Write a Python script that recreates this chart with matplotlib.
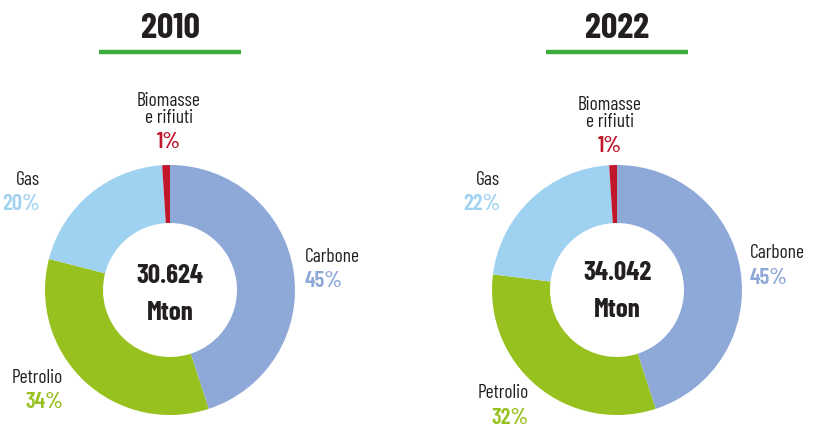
import matplotlib
matplotlib.use("Agg")
import matplotlib.pyplot as plt
from matplotlib import font_manager

installed = set(f.name for f in font_manager.fontManager.ttflist)
prefer = ["Barlow Condensed", "Roboto Condensed", "Barlow Semi Condensed",
          "Archivo Narrow", "PT Sans Narrow", "Oswald"]
FONT = next((f for f in prefer if f in installed), None)
if FONT:
    plt.rcParams['font.family'] = [FONT, 'DejaVu Sans']
    STRETCH = "normal"
else:
    plt.rcParams['font.family'] = ['DejaVu Sans']
    STRETCH = "condensed"
plt.rcParams['font.stretch'] = STRETCH

years = ["2010", "2022"]
totals = ["30.624", "34.042"]
sources = ["Carbone", "Petrolio", "Gas", "Biomasse", "e rifiuti"]
share_2010 = [45, 34, 20, 1]
share_2022 = [45, 32, 22, 1]
colors = ["#8ea8d8", "#97c11f", "#9fd1f0", "#c0172b"]
dark = "#231f20"
green = "#3dae3d"

W, H = 813, 432
fig = plt.figure(figsize=(W / 100, H / 100), dpi=100)
ax = fig.add_axes([0, 0, 1, 1])

def Y(y):
    return H - y

LBL, PCT, MID, TTL = 14, 16.5, 19.5, 26

# per-chart layout (pixel positions from top-left, baselines)
layouts = [
    dict(cx=170, bio=(169, 106, 123, 148), gas=(40, 185, 210),
         car=(305, 262, 287), pet=(63, 383, 408), mid=(283, 320)),
    dict(cx=617, bio=(610, 110, 127, 152), gas=(500, 185, 210),
         car=(750, 258, 284), pet=(529, 398, 424), mid=(280, 317)),
]

for L, year, total, vals in zip(layouts, years, totals, [share_2010, share_2022]):
    cx = L["cx"]
    ax.pie(vals, colors=colors, startangle=90, counterclock=False,
           center=(cx, Y(290)), radius=125,
           wedgeprops=dict(width=58, linewidth=0), frame=True)
    ax.text(cx, Y(38), year, ha="center", va="baseline", fontsize=TTL,
            fontweight="bold", color=dark)
    ax.plot([cx - 71, cx + 71], [Y(52), Y(52)], color=green, lw=3.2,
            solid_capstyle="butt")
    ax.text(cx, Y(L["mid"][0]), total, ha="center", va="baseline",
            fontsize=MID, fontweight="bold", color=dark)
    ax.text(cx, Y(L["mid"][1]), "Mton", ha="center", va="baseline",
            fontsize=MID, fontweight="bold", color=dark)

    x, y1, y2 = L["car"]
    ax.text(x, Y(y1), sources[0], ha="left", va="baseline", fontsize=LBL, color=dark)
    ax.text(x, Y(y2), f"{vals[0]}%", ha="left", va="baseline", fontsize=PCT,
            fontweight="semibold", color=colors[0])

    x, y1, y2 = L["pet"]
    ax.text(x, Y(y1), sources[1], ha="right", va="baseline", fontsize=LBL, color=dark)
    ax.text(x, Y(y2), f"{vals[1]}%", ha="right", va="baseline", fontsize=PCT,
            fontweight="semibold", color=colors[1])

    x, y1, y2 = L["gas"]
    ax.text(x, Y(y1), sources[2], ha="right", va="baseline", fontsize=LBL, color=dark)
    ax.text(x, Y(y2), f"{vals[2]}%", ha="right", va="baseline", fontsize=PCT,
            fontweight="semibold", color=colors[2])

    x, y1, y2, y3 = L["bio"]
    ax.text(x, Y(y1), sources[3], ha="center", va="baseline", fontsize=LBL, color=dark)
    ax.text(x, Y(y2), sources[4], ha="center", va="baseline", fontsize=LBL, color=dark)
    ax.text(x, Y(y3), f"{vals[3]}%", ha="center", va="baseline", fontsize=PCT,
            fontweight="semibold", color=colors[3])

ax.set_xlim(0, W)
ax.set_ylim(0, H)
ax.set_aspect("equal")
ax.axis("off")
fig.savefig("out.png", dpi=100)
